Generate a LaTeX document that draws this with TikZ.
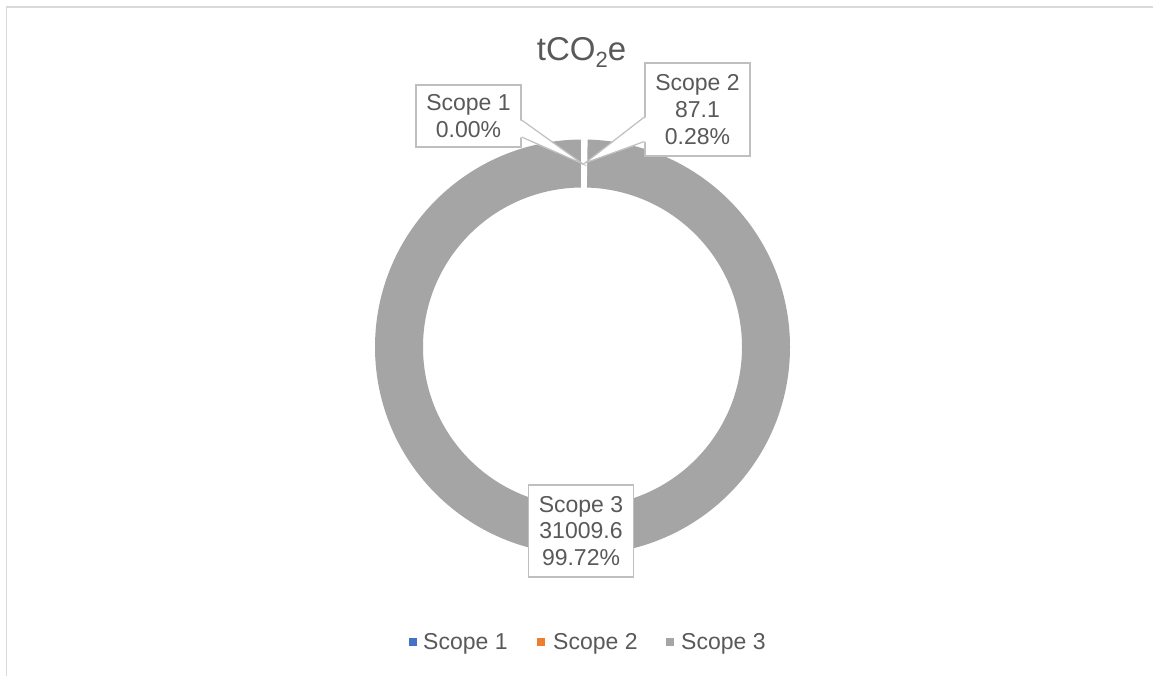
\documentclass[tikz,border=0pt]{standalone}
\usepackage{fontspec}
\setmainfont{Liberation Sans}
\usetikzlibrary{calc}
\definecolor{ringgray}{HTML}{A5A5A5}
\definecolor{txt}{HTML}{595959}
\definecolor{lblborder}{HTML}{BFBFBF}
\definecolor{framegray}{HTML}{D9D9D9}
\definecolor{sonblue}{HTML}{4472C4}
\definecolor{stworange}{HTML}{ED7D31}
\begin{document}
\begin{tikzpicture}[x=1pt,y=-1pt,
  lbl/.style={draw=lblborder, line width=1.2pt, fill=white, text=txt, align=center,
    minimum width=105pt, inner sep=0pt, font=\fontsize{23}{26.8}\selectfont},
  wedgeline/.style={draw=lblborder, line width=1.2pt, line join=miter},
  legtxt/.style={text=txt, anchor=base west, inner sep=0pt, font=\fontsize{23}{26.8}\selectfont},
  legmark/.style={minimum size=8pt, inner sep=0pt, anchor=north west}]
\useasboundingbox (0,0) rectangle (1153,675);
\fill[white] (0,0) rectangle (1153,675);
\draw[framegray, line width=1.5pt] (6.5,680) -- (6.5,7) -- (1160,7);
% title
\node[text=txt, anchor=base, inner sep=0pt, font=\fontsize{33}{38}\selectfont] (title) at (581.5,60) {tCO\raisebox{-7pt}{\fontsize{22}{24}\selectfont 2}e};
% ring
\coordinate (c) at (582.5,347);
\fill[ringgray, even odd rule] (c) circle[radius=207.5pt] (c) circle[radius=159.5pt];
\draw[white, line width=3pt] ($(c)+(90:157pt)$) -- ($(c)+(90:210pt)$);
\draw[white, line width=3pt] ($(c)+(89.5:157pt)$) -- ($(c)+(89.5:210pt)$);
\draw[white, line width=3pt] ($(c)+(89:157pt)$) -- ($(c)+(89:210pt)$);
% Scope 1 label
\node[lbl, minimum height=62pt] (s1) at (468.5,116) {Scope 1\\0.00\%};
\coordinate (t1) at (583,164);
\fill[white] ($(s1.east)+(-2,4)$) -- (t1) -- ($(s1.east)+(-2,21)$) -- cycle;
\draw[wedgeline] ($(s1.east)+(0,4)$) -- (t1) -- ($(s1.east)+(0,21)$);
% Scope 2 label
\node[lbl, minimum height=93pt] (s2) at (697.5,109.5) {Scope 2\\87.1\\0.28\%};
\coordinate (t2) at (585,163);
\fill[white] ($(s2.west)+(2,7.5)$) -- (t2) -- ($(s2.west)+(2,32)$) -- cycle;
\draw[wedgeline] ($(s2.west)+(0,7.5)$) -- (t2) -- ($(s2.west)+(0,32)$);
% Scope 3 label
\node[lbl, minimum height=92pt] (s3) at (581,531) {Scope 3\\31009.6\\99.72\%};
% legend
\node[legmark, fill=sonblue] (m1) at (409,638) {};
\node[legtxt] (l1) at (423,649) {Scope 1};
\node[legmark, fill=stworange] (m2) at (537,638) {};
\node[legtxt] (l2) at (553,649) {Scope 2};
\node[legmark, fill=ringgray] (m3) at (666,638) {};
\node[legtxt] (l3) at (681,649) {Scope 3};
\end{tikzpicture}
\end{document}
